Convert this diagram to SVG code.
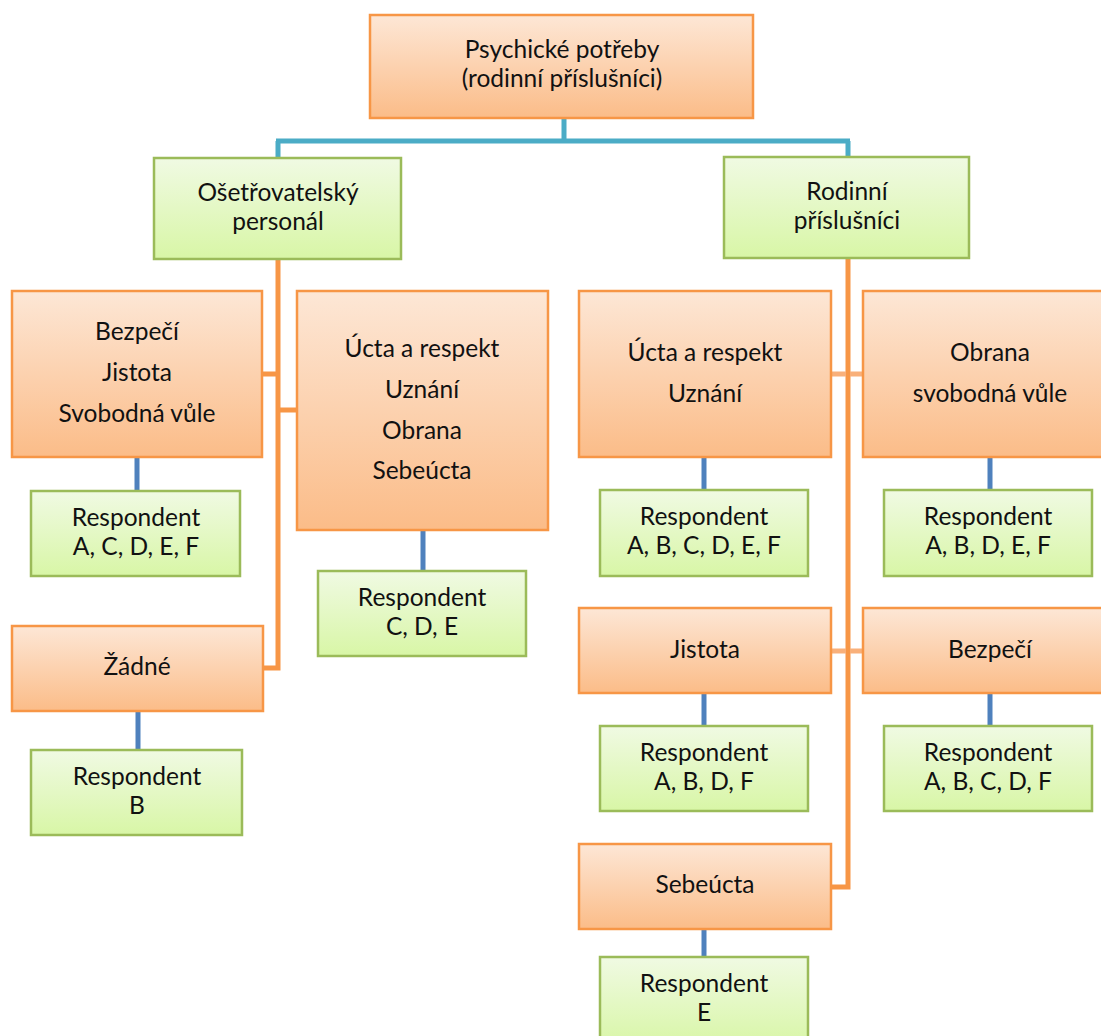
<svg xmlns="http://www.w3.org/2000/svg" width="1101" height="1036" viewBox="0 0 1101 1036">
  <defs>
    <linearGradient id="gOrange" x1="0" y1="0" x2="0" y2="1">
      <stop offset="0" stop-color="#FDE7D6"/>
      <stop offset="1" stop-color="#FBBC88"/>
    </linearGradient>
    <linearGradient id="gGreen" x1="0" y1="0" x2="0" y2="1">
      <stop offset="0" stop-color="#F0FAE3"/>
      <stop offset="1" stop-color="#D8F6A6"/>
    </linearGradient>
  </defs>
  <style>
    .o { fill: url(#gOrange); stroke: #F79646; stroke-width: 2.5; }
    .g { fill: url(#gGreen); stroke: #9BBB59; stroke-width: 2.5; }
    text { font-family: Lato, "Liberation Sans", sans-serif; font-size: 24.5px; fill: #111; text-anchor: middle; }
    .top { stroke: #4BACC6; stroke-width: 5; fill: none; }
    .br { stroke: #F79646; stroke-width: 5; fill: none; }
    .lt { stroke: #F9B07A; stroke-width: 5; fill: none; }
    .lf { stroke: #4F81BD; stroke-width: 5; fill: none; }
  </style>
  <rect width="1101" height="1036" fill="#FFFFFF"/>

  <!-- connectors -->
  <g id="connectors">
    <path class="top" d="M564 118 V141 M276 141 H850 M278 141 V158 M848 141 V157"/>
    <!-- left branch -->
    <path class="br" d="M278 259 V668 H263 M262 374 H278 M278 410 H297"/>
    <!-- right branch -->
    <path class="br" d="M848 258 V887 H831"/>
    <path class="lt" d="M831 374 H846 M850 374 H863 M831 651 H846 M850 651 H863"/>
    <!-- leaves -->
    <path class="lf" d="M137 457 V491 M138 711 V750 M423 530 V571 M704 457 V490 M990 457 V490 M704 693 V726 M990 693 V726 M704 929 V957"/>
  </g>

  <g id="root">
    <rect class="o" x="370" y="15" width="383" height="103"/>
    <text x="562" y="58">Psychické potřeby</text>
    <text x="562" y="87">(rodinní příslušníci)</text>
  </g>

  <g id="osetrovatelsky-personal">
    <rect class="g" x="154" y="158" width="247" height="101"/>
    <text x="278" y="201">Ošetřovatelský</text>
    <text x="278" y="230">personál</text>
  </g>

  <g id="rodinni-prislusnici">
    <rect class="g" x="724" y="157" width="245" height="101"/>
    <text x="847" y="200">Rodinní</text>
    <text x="847" y="229">příslušníci</text>
  </g>

  <g id="l-bezpeci">
    <rect class="o" x="12" y="291" width="250" height="166"/>
    <text x="137" y="340">Bezpečí</text>
    <text x="137" y="381">Jistota</text>
    <text x="137" y="422">Svobodná vůle</text>
  </g>

  <g id="l-ucta">
    <rect class="o" x="297" y="291" width="251" height="239"/>
    <text x="422" y="357">Úcta a respekt</text>
    <text x="422" y="398">Uznání</text>
    <text x="422" y="439">Obrana</text>
    <text x="422" y="479">Sebeúcta</text>
  </g>

  <g id="l-resp-acdef">
    <rect class="g" x="31" y="491" width="209" height="85"/>
    <text x="136" y="526">Respondent</text>
    <text x="136" y="555">A, C, D, E, F</text>
  </g>

  <g id="l-resp-cde">
    <rect class="g" x="318" y="571" width="208" height="85"/>
    <text x="422" y="606">Respondent</text>
    <text x="422" y="635">C, D, E</text>
  </g>

  <g id="l-zadne">
    <rect class="o" x="12" y="626" width="251" height="85"/>
    <text x="137" y="675">Žádné</text>
  </g>

  <g id="l-resp-b">
    <rect class="g" x="31" y="750" width="211" height="85"/>
    <text x="137" y="785">Respondent</text>
    <text x="137" y="814">B</text>
  </g>

  <g id="r-ucta">
    <rect class="o" x="579" y="291" width="252" height="166"/>
    <text x="705" y="361">Úcta a respekt</text>
    <text x="705" y="402">Uznání</text>
  </g>

  <g id="r-obrana">
    <rect class="o" x="863" y="291" width="254" height="166"/>
    <text x="990" y="361">Obrana</text>
    <text x="990" y="402">svobodná vůle</text>
  </g>

  <g id="r-resp-abcdef">
    <rect class="g" x="600" y="490" width="208" height="86"/>
    <text x="704" y="525">Respondent</text>
    <text x="704" y="554">A, B, C, D, E, F</text>
  </g>

  <g id="r-resp-abdef">
    <rect class="g" x="884" y="490" width="208" height="86"/>
    <text x="988" y="525">Respondent</text>
    <text x="988" y="554">A, B, D, E, F</text>
  </g>

  <g id="r-jistota">
    <rect class="o" x="579" y="608" width="252" height="85"/>
    <text x="705" y="658">Jistota</text>
  </g>

  <g id="r-bezpeci">
    <rect class="o" x="863" y="608" width="254" height="85"/>
    <text x="990" y="658">Bezpečí</text>
  </g>

  <g id="r-resp-abdf">
    <rect class="g" x="600" y="726" width="208" height="85"/>
    <text x="704" y="761">Respondent</text>
    <text x="704" y="790">A, B, D, F</text>
  </g>

  <g id="r-resp-abcdf">
    <rect class="g" x="884" y="726" width="208" height="85"/>
    <text x="988" y="761">Respondent</text>
    <text x="988" y="790">A, B, C, D, F</text>
  </g>

  <g id="r-sebeucta">
    <rect class="o" x="579" y="844" width="252" height="85"/>
    <text x="705" y="893">Sebeúcta</text>
  </g>

  <g id="r-resp-e">
    <rect class="g" x="600" y="957" width="208" height="90"/>
    <text x="704" y="992">Respondent</text>
    <text x="704" y="1021">E</text>
  </g>
</svg>
